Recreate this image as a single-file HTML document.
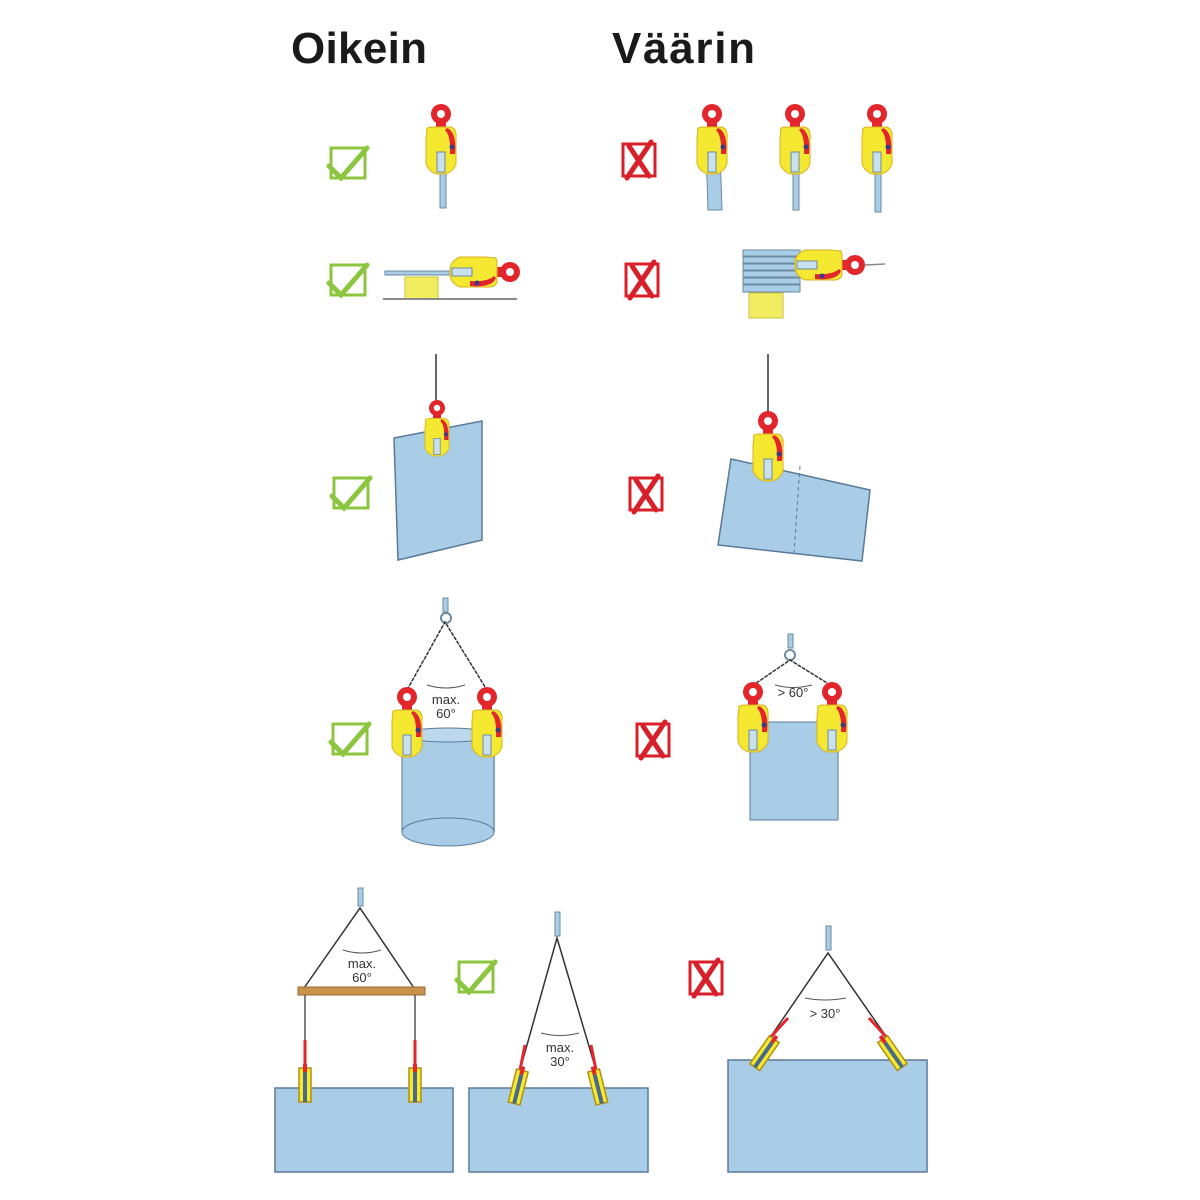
<!DOCTYPE html>
<html><head><meta charset="utf-8"><style>
html,body{margin:0;padding:0;background:#fff;}
svg{display:block}
text{font-family:"Liberation Sans",sans-serif;}
</style></head><body>
<svg width="1200" height="1200" viewBox="0 0 1200 1200" xmlns="http://www.w3.org/2000/svg">
<defs>
  <g id="clamp">
    <circle cx="0" cy="0" r="10" fill="#e3262c"/>
    <circle cx="0" cy="0" r="4" fill="#fff"/>
    <rect x="-5" y="6" width="10" height="10" fill="#e3262c"/>
    <path d="M-14,16 Q-16,14 -10,13 L10,13 Q16,15 15,24 L15,50 Q12,58 4,60 L-4,60 Q-12,58 -15,50 L-15,24 Z" fill="#f5e830" stroke="#d8b020" stroke-width="1"/>
    <path d="M6,14 Q16,18 14,40 L9,40 Q10,22 4,16 Z" fill="#e3262c"/>
    <circle cx="11" cy="33" r="2.5" fill="#3a3a8a"/>
    <rect x="-4" y="38" width="8" height="20" fill="#c9e0ef" stroke="#6c8aa0"/>
  </g>
  <g id="chk">
    <rect x="0" y="2" width="34" height="30" fill="none" stroke="#8cc63f" stroke-width="3"/>
    <path d="M-2,20 L10,32 L36,2" fill="none" stroke="#8cc63f" stroke-width="5" stroke-linecap="round"/>
  </g>
  <g id="xx">
    <rect x="0" y="2" width="32" height="32" fill="none" stroke="#d9202a" stroke-width="3"/>
    <path d="M6,4 L26,34 M28,0 L4,36" fill="none" stroke="#d9202a" stroke-width="5" stroke-linecap="round"/>
  </g>
  <g id="minic">
    <rect x="-6" y="-18" width="12" height="34" fill="#f5e830" stroke="#b09010" stroke-width="1.5"/>
    <rect x="-2" y="-14" width="4" height="30" fill="#4a6a8a"/>
    <rect x="-2" y="-22" width="4" height="8" fill="#e3262c"/>
  </g>
</defs>

<text x="291" y="63" font-size="44" font-weight="bold" fill="#1a1a1a" textLength="136">Oikein</text>
<text x="612" y="63" font-size="44" font-weight="bold" fill="#1a1a1a" textLength="143">Väärin</text>

<!-- Row 1 -->
<use href="#chk" x="331" y="146"/>
<rect x="440" y="150" width="6" height="58" fill="#a9cde6" stroke="#6c8aa0"/>
<use href="#clamp" x="441" y="114"/>
<use href="#xx" x="623" y="142"/>
<path d="M706,150 L720,150 L722,210 L708,210 Z" fill="#a9cde6" stroke="#6c8aa0"/>
<use href="#clamp" x="712" y="114"/>
<rect x="793" y="150" width="6" height="60" fill="#a9cde6" stroke="#6c8aa0"/>
<use href="#clamp" x="795" y="114"/>
<rect x="875" y="150" width="6" height="62" fill="#a9cde6" stroke="#6c8aa0"/>
<use href="#clamp" x="877" y="114"/>

<!-- Row 2 -->
<use href="#chk" x="331" y="263"/>
<rect x="385" y="271" width="80" height="4" fill="#a9cde6" stroke="#6c8aa0"/>
<rect x="405" y="277" width="33" height="22" fill="#f0ee60" stroke="#c8c040"/>
<line x1="383" y1="299" x2="517" y2="299" stroke="#8a8a8a" stroke-width="2"/>
<g transform="translate(510,272) rotate(90)"><use href="#clamp"/></g>
<use href="#xx" x="626" y="262"/>
<g fill="#a9cde6" stroke="#6c8aa0" stroke-width="1">
<rect x="743" y="250" width="57" height="6"/><rect x="743" y="257" width="57" height="6"/><rect x="743" y="264" width="57" height="6"/>
<rect x="743" y="271" width="57" height="6"/><rect x="743" y="278" width="57" height="6"/><rect x="743" y="285" width="57" height="7"/>
</g>
<rect x="749" y="293" width="34" height="25" fill="#f0ee60" stroke="#c8c040"/>
<g transform="translate(855,265) rotate(90)"><use href="#clamp"/></g>
<line x1="865" y1="265" x2="885" y2="264" stroke="#888" stroke-width="1.5"/>

<!-- Row 3 -->
<use href="#chk" x="334" y="476"/>
<line x1="436" y1="354" x2="436" y2="400" stroke="#333" stroke-width="1.5"/>
<polygon points="394,438 482,421 482,540 398,560" fill="#a9cde6" stroke="#5a7a9a" stroke-width="1.5"/>
<g transform="translate(437,408) scale(0.8)"><use href="#clamp"/></g>
<use href="#xx" x="630" y="476"/>
<line x1="768" y1="354" x2="768" y2="411" stroke="#333" stroke-width="1.5"/>
<polygon points="731,459 870,490 862,561 718,545" fill="#a9cde6" stroke="#5a7a9a" stroke-width="1.5"/>
<line x1="800" y1="466" x2="794" y2="553" stroke="#5a7a9a" stroke-dasharray="4,3"/>
<use href="#clamp" x="768" y="421"/>

<!-- Row 4 -->
<use href="#chk" x="333" y="722"/>
<rect x="402" y="735" width="93" height="97" fill="#a9cde6"/>
<ellipse cx="448" cy="832" rx="46" ry="14" fill="#a9cde6" stroke="#5a7a9a"/>
<ellipse cx="448" cy="735" rx="46" ry="7" fill="#bcd8ec" stroke="#5a7a9a"/>
<line x1="402" y1="735" x2="402" y2="832" stroke="#5a7a9a"/><line x1="494" y1="735" x2="494" y2="832" stroke="#5a7a9a"/>
<rect x="443" y="598" width="5" height="14" fill="#a9cde6" stroke="#6c8aa0"/>
<circle cx="446" cy="618" r="5" fill="none" stroke="#6c8aa0" stroke-width="2"/>
<path d="M407,690 L445,622 L487,690" fill="none" stroke="#333" stroke-width="1.5" stroke-dasharray="4,1"/>
<use href="#clamp" x="407" y="697"/>
<use href="#clamp" x="487" y="697"/>
<path d="M427,685 Q446,691 465,685" fill="none" stroke="#555"/>
<text x="446" y="704" font-size="13" text-anchor="middle" fill="#333">max.</text>
<text x="446" y="718" font-size="13" text-anchor="middle" fill="#333">60°</text>

<use href="#xx" x="637" y="722"/>
<rect x="750" y="722" width="88" height="98" fill="#a9cde6" stroke="#5a7a9a"/>
<rect x="788" y="634" width="5" height="14" fill="#a9cde6" stroke="#6c8aa0"/>
<circle cx="790" cy="655" r="5" fill="none" stroke="#6c8aa0" stroke-width="2"/>
<path d="M752,686 L790,660 L832,686" fill="none" stroke="#333" stroke-width="1.5" stroke-dasharray="4,1"/>
<use href="#clamp" x="753" y="692"/>
<use href="#clamp" x="832" y="692"/>
<path d="M775,685 Q793,690 812,685" fill="none" stroke="#555"/>
<text x="793" y="697" font-size="13" text-anchor="middle" fill="#333">&gt; 60°</text>

<!-- Row 5 left -->
<rect x="275" y="1088" width="178" height="84" fill="#a9cde6" stroke="#5a7a9a" stroke-width="1.5"/>
<rect x="358" y="888" width="5" height="18" fill="#a9cde6" stroke="#6c8aa0"/>
<path d="M304,988 L360,908 L414,988" fill="none" stroke="#333" stroke-width="1.5"/>
<rect x="298" y="987" width="127" height="8" fill="#c8924a" stroke="#9a6a30"/>
<line x1="305" y1="995" x2="305" y2="1040" stroke="#555" stroke-width="1.5"/>
<line x1="305" y1="1040" x2="305" y2="1070" stroke="#e3262c" stroke-width="3"/>
<line x1="415" y1="995" x2="415" y2="1040" stroke="#555" stroke-width="1.5"/>
<line x1="415" y1="1040" x2="415" y2="1070" stroke="#e3262c" stroke-width="3"/>
<use href="#minic" x="305" y="1086"/>
<use href="#minic" x="415" y="1086"/>
<path d="M343,950 Q362,956 381,950" fill="none" stroke="#555"/>
<text x="362" y="968" font-size="13" text-anchor="middle" fill="#333">max.</text>
<text x="362" y="982" font-size="13" text-anchor="middle" fill="#333">60°</text>

<!-- Row 5 middle -->
<use href="#chk" x="459" y="960"/>
<rect x="469" y="1088" width="179" height="84" fill="#a9cde6" stroke="#5a7a9a" stroke-width="1.5"/>
<rect x="555" y="912" width="5" height="24" fill="#a9cde6" stroke="#6c8aa0"/>
<path d="M520,1070 L557,938 L596,1070" fill="none" stroke="#333" stroke-width="1.5"/>
<line x1="520" y1="1070" x2="525" y2="1045" stroke="#e3262c" stroke-width="3"/>
<line x1="596" y1="1070" x2="591" y2="1045" stroke="#e3262c" stroke-width="3"/>
<g transform="translate(518,1088) rotate(14)"><use href="#minic"/></g>
<g transform="translate(598,1088) rotate(-14)"><use href="#minic"/></g>
<path d="M541,1033 Q560,1038 579,1033" fill="none" stroke="#555"/>
<text x="560" y="1052" font-size="13" text-anchor="middle" fill="#333">max.</text>
<text x="560" y="1066" font-size="13" text-anchor="middle" fill="#333">30°</text>

<!-- Row 5 right -->
<use href="#xx" x="690" y="960"/>
<rect x="728" y="1060" width="199" height="112" fill="#a9cde6" stroke="#5a7a9a" stroke-width="1.5"/>
<rect x="826" y="926" width="5" height="24" fill="#a9cde6" stroke="#6c8aa0"/>
<path d="M765,1045 L828,953 L892,1045" fill="none" stroke="#333" stroke-width="1.5"/>
<line x1="768" y1="1040" x2="788" y2="1018" stroke="#e3262c" stroke-width="3"/>
<line x1="889" y1="1040" x2="869" y2="1018" stroke="#e3262c" stroke-width="3"/>
<g transform="translate(764,1054) rotate(35)"><use href="#minic"/></g>
<g transform="translate(893,1054) rotate(-35)"><use href="#minic"/></g>
<path d="M805,998 Q825,1002 846,998" fill="none" stroke="#555"/>
<text x="825" y="1018" font-size="13" text-anchor="middle" fill="#333">&gt; 30°</text>
</svg>
</body></html>
